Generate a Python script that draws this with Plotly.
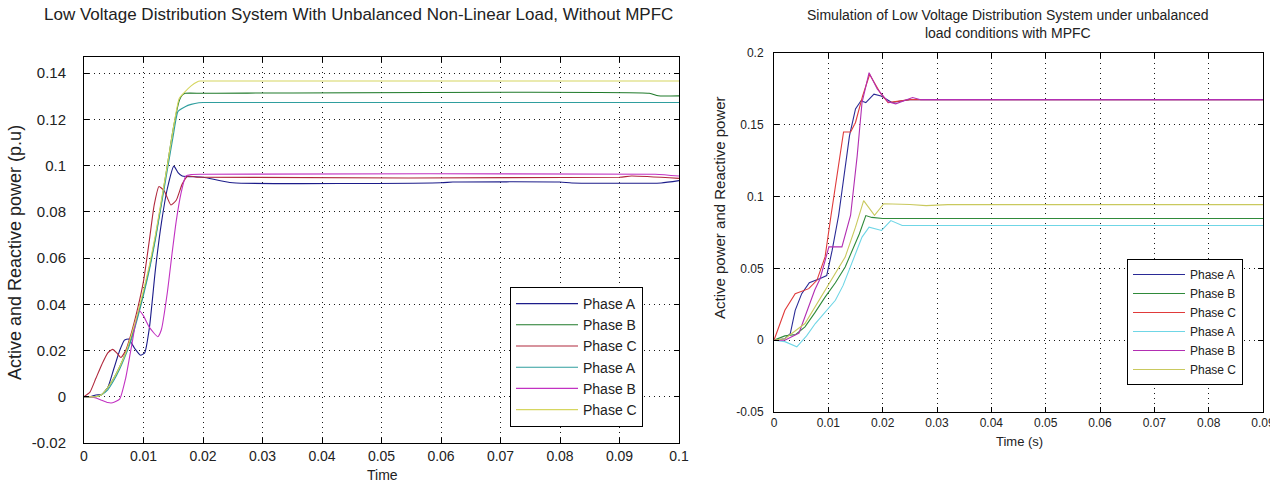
import plotly.graph_objects as go

W, H = 1270, 484
OFF = 0  # body margin removed by post_script below

# ---------------- Left chart data (without MPFC) ----------------
L_names = ["Phase A", "Phase B", "Phase C", "Phase A", "Phase B", "Phase C"]
L_colors = ["#1c1c8a", "#1f7a2a", "#b0283c", "#2f9e9e", "#c232c2", "#d6d660"]

L_A1_t = [0, 0.001, 0.002, 0.003, 0.004, 0.005, 0.006, 0.0068, 0.0075, 0.0085, 0.0095, 0.0102, 0.011, 0.012, 0.013, 0.014, 0.0151, 0.0158, 0.0165, 0.02, 0.025, 0.06, 0.062, 0.08, 0.082, 0.097, 0.1]
L_A1_v = [0, 0, 0.0008, 0.001, 0.004, 0.012, 0.02, 0.0245, 0.025, 0.021, 0.018, 0.019, 0.03, 0.055, 0.075, 0.09, 0.0998, 0.097, 0.0955, 0.0950, 0.0926, 0.0926, 0.0929, 0.0929, 0.0925, 0.0925, 0.0935]

L_B1_t = [0, 0.002, 0.003, 0.004, 0.005, 0.006, 0.007, 0.008, 0.009, 0.01, 0.011, 0.012, 0.013, 0.014, 0.015, 0.016, 0.0165, 0.017, 0.02, 0.095, 0.0965, 0.1]
L_B1_v = [0, 0, 0.001, 0.004, 0.008, 0.013, 0.019, 0.026, 0.035, 0.045, 0.056, 0.069, 0.084, 0.1, 0.116, 0.128, 0.1305, 0.1313, 0.1313, 0.1313, 0.1302, 0.1302]

L_C1_t = [0, 0.001, 0.002, 0.003, 0.004, 0.0048, 0.0055, 0.0062, 0.007, 0.008, 0.009, 0.01, 0.011, 0.0118, 0.0126, 0.0135, 0.0146, 0.0155, 0.0165, 0.0175, 0.019, 0.09, 0.092, 0.1]
L_C1_v = [0, 0.002, 0.008, 0.014, 0.019, 0.0205, 0.019, 0.017, 0.02, 0.028, 0.038, 0.05, 0.068, 0.083, 0.091, 0.089, 0.083, 0.085, 0.092, 0.0955, 0.0950, 0.0950, 0.0955, 0.0945]

L_A2_t = [0, 0.002, 0.003, 0.004, 0.005, 0.006, 0.007, 0.008, 0.009, 0.01, 0.011, 0.012, 0.013, 0.014, 0.015, 0.0158, 0.017, 0.018, 0.0193, 0.02, 0.1]
L_A2_v = [0, 0, 0.001, 0.003, 0.007, 0.012, 0.018, 0.025, 0.034, 0.044, 0.055, 0.068, 0.083, 0.098, 0.113, 0.1235, 0.1255, 0.1265, 0.1272, 0.1273, 0.1273]

L_B2_t = [0, 0.001, 0.002, 0.003, 0.004, 0.0048, 0.006, 0.007, 0.008, 0.0092, 0.01, 0.011, 0.0124, 0.013, 0.014, 0.0148, 0.0155, 0.0163, 0.0171, 0.018, 0.02, 0.096, 0.1]
L_B2_v = [0, 0, -0.0005, -0.0015, -0.0025, -0.0026, -0.001, 0.008, 0.022, 0.0374, 0.035, 0.03, 0.026, 0.029, 0.045, 0.062, 0.076, 0.088, 0.0955, 0.0962, 0.0963, 0.0963, 0.0955]

L_C2_t = [0, 0.002, 0.003, 0.004, 0.005, 0.006, 0.007, 0.008, 0.009, 0.01, 0.011, 0.012, 0.013, 0.014, 0.015, 0.016, 0.017, 0.018, 0.019, 0.0195, 0.02, 0.1]
L_C2_v = [0, 0, 0.001, 0.004, 0.008, 0.013, 0.019, 0.027, 0.036, 0.046, 0.057, 0.07, 0.085, 0.1, 0.116, 0.129, 0.132, 0.1345, 0.1362, 0.1366, 0.1366, 0.1366]

L_xticks = [0, 0.01, 0.02, 0.03, 0.04, 0.05, 0.06, 0.07, 0.08, 0.09, 0.1]
L_xtext = ["0", "0.01", "0.02", "0.03", "0.04", "0.05", "0.06", "0.07", "0.08", "0.09", "0.1"]
L_yticks = [-0.02, 0, 0.02, 0.04, 0.06, 0.08, 0.1, 0.12, 0.14]
L_ytext = ["-0.02", "0", "0.02", "0.04", "0.06", "0.08", "0.1", "0.12", "0.14"]

# ---------------- Right chart data (with MPFC) ----------------
R_names = ["Phase A", "Phase B", "Phase C", "Phase A", "Phase B", "Phase C"]
R_colors = ["#2a2a96", "#2f8a3a", "#e03a3a", "#6fd6e6", "#b22eb2", "#c9c95e"]

R_A1_t = [0, 0.002, 0.003, 0.0039, 0.0051, 0.0065, 0.0085, 0.0097, 0.0107, 0.0119, 0.0139, 0.015, 0.016, 0.0169, 0.0184, 0.0197, 0.0217, 0.025, 0.1]
R_A1_v = [0, 0.001, 0.0046, 0.0208, 0.0324, 0.04, 0.043, 0.045, 0.0625, 0.087, 0.1424, 0.161, 0.1667, 0.1655, 0.1713, 0.17, 0.1655, 0.1675, 0.1675]

R_B1_t = [0, 0.002, 0.004, 0.0057, 0.0075, 0.0094, 0.0113, 0.0131, 0.0157, 0.0169, 0.018, 0.02, 0.1]
R_B1_v = [0, 0.003, 0.004, 0.0093, 0.019, 0.030, 0.04, 0.051, 0.074, 0.0868, 0.0855, 0.0847, 0.0847]

R_C1_t = [0, 0.002, 0.0039, 0.005, 0.0064, 0.0079, 0.0094, 0.0105, 0.0118, 0.0128, 0.0141, 0.015, 0.0163, 0.0176, 0.0196, 0.021, 0.023, 0.025, 0.1]
R_C1_v = [0, 0.0208, 0.0324, 0.034, 0.0359, 0.0417, 0.058, 0.087, 0.12, 0.145, 0.145, 0.1516, 0.17, 0.185, 0.172, 0.1655, 0.1665, 0.1675, 0.1675]

R_A2_t = [0, 0.002, 0.0042, 0.006, 0.0076, 0.0095, 0.0113, 0.0127, 0.0141, 0.0162, 0.0175, 0.0198, 0.0215, 0.0236, 0.1]
R_A2_v = [0, -0.001, -0.0046, 0.003, 0.0116, 0.02, 0.0278, 0.038, 0.051, 0.0718, 0.0787, 0.0764, 0.0833, 0.0799, 0.0799]

R_B2_t = [0, 0.002, 0.0046, 0.006, 0.0075, 0.0085, 0.0101, 0.0125, 0.0141, 0.0153, 0.0162, 0.0175, 0.019, 0.021, 0.0224, 0.0255, 0.027, 0.1]
R_B2_v = [0, 0, 0.005, 0.02, 0.035, 0.043, 0.065, 0.065, 0.087, 0.128, 0.1655, 0.1863, 0.175, 0.166, 0.1646, 0.169, 0.1675, 0.1675]

R_C2_t = [0, 0.002, 0.0057, 0.0094, 0.0131, 0.015, 0.0165, 0.0185, 0.0202, 0.025, 0.028, 0.032, 0.1]
R_C2_v = [0, 0.001, 0.0116, 0.0347, 0.0579, 0.0787, 0.0972, 0.087, 0.095, 0.0945, 0.0937, 0.0944, 0.0944]

R_xticks = [0, 0.01, 0.02, 0.03, 0.04, 0.05, 0.06, 0.07, 0.08, 0.09]
R_xtext = ["0", "0.01", "0.02", "0.03", "0.04", "0.05", "0.06", "0.07", "0.08", "0.09"]
R_yticks = [-0.05, 0, 0.05, 0.1, 0.15, 0.2]
R_ytext = ["-0.05", "0", "0.05", "0.1", "0.15", "0.2"]

FONT = "Liberation Sans, Arial, sans-serif"

fig = go.Figure()

left_series = [(L_A1_t, L_A1_v), (L_B1_t, L_B1_v), (L_C1_t, L_C1_v),
               (L_A2_t, L_A2_v), (L_B2_t, L_B2_v), (L_C2_t, L_C2_v)]
for (t, v), name, col in zip(left_series, L_names, L_colors):
    fig.add_trace(go.Scatter(x=t, y=v, mode="lines", name=name,
                             line=dict(color=col, width=1.1, shape="spline", smoothing=0.5),
                             xaxis="x", yaxis="y", legend="legend"))

right_series = [(R_A1_t, R_A1_v), (R_B1_t, R_B1_v), (R_C1_t, R_C1_v),
                (R_A2_t, R_A2_v), (R_B2_t, R_B2_v), (R_C2_t, R_C2_v)]
for (t, v), name, col in zip(right_series, R_names, R_colors):
    fig.add_trace(go.Scatter(x=t, y=v, mode="lines", name=name,
                             line=dict(color=col, width=1.1),
                             xaxis="x2", yaxis="y2", legend="legend2"))

def px_x(p):
    return (p - OFF) / W

def px_y(p):
    return 1 - (p - OFF) / H

axis_common = dict(showline=True, linecolor="black", linewidth=1, mirror="ticks",
                   ticks="inside", ticklen=5, tickcolor="black", automargin=False,
                   showgrid=True, gridcolor="rgba(0,0,0,0.9)", griddash="1px,4px", gridwidth=1,
                   zeroline=False, tickmode="array", ticklabeloverflow="allow")

fig.update_layout(
    width=W, height=H, autosize=False,
    margin=dict(l=0, r=0, t=0, b=0, pad=0, autoexpand=False),
    paper_bgcolor="white", plot_bgcolor="white",
    font=dict(family=FONT, color="#222222"),
    xaxis=dict(domain=[px_x(84), px_x(679)], range=[0, 0.1], anchor="y",
               tickvals=L_xticks, ticktext=L_xtext, tickfont=dict(size=14), **axis_common),
    yaxis=dict(domain=[px_y(443), px_y(57)], range=[-0.02, 0.147], anchor="x",
               tickvals=L_yticks, ticktext=L_ytext, tickfont=dict(size=15),
               ticklabelstandoff=14, **axis_common),
    xaxis2=dict(domain=[px_x(774), px_x(1263)], range=[0, 0.09], anchor="y2",
                tickvals=R_xticks, ticktext=R_xtext, tickfont=dict(size=12), **axis_common),
    yaxis2=dict(domain=[px_y(412), px_y(53)], range=[-0.05, 0.2], anchor="x2",
                tickvals=R_yticks, ticktext=R_ytext, tickfont=dict(size=12),
                ticklabelstandoff=7, **axis_common),
    legend=dict(x=px_x(510), y=px_y(287), xanchor="left", yanchor="top",
                bgcolor="white", bordercolor="black", borderwidth=1,
                font=dict(size=14), tracegroupgap=0, itemwidth=62),
    legend2=dict(x=px_x(1127), y=px_y(259), xanchor="left", yanchor="top",
                 bgcolor="white", bordercolor="black", borderwidth=1,
                 font=dict(size=12), tracegroupgap=0, itemwidth=52),
    showlegend=True,
)

annotations = [
    dict(text="Low Voltage Distribution System With Unbalanced Non-Linear Load, Without MPFC",
         x=px_x(358), y=px_y(15), font=dict(size=17)),
    dict(text="Simulation of Low Voltage Distribution System under unbalanced<br>load conditions with MPFC",
         x=px_x(1008), y=px_y(24), font=dict(size=14)),
    dict(text="Time", x=px_x(382), y=px_y(475), font=dict(size=14)),
    dict(text="Time (s)", x=px_x(1019), y=px_y(441), font=dict(size=13)),
    dict(text="Active and Reactive power (p.u)", x=px_x(15), y=px_y(253), textangle=-90, font=dict(size=18)),
    dict(text="Active power and Reactive power", x=px_x(719), y=px_y(208), textangle=-90, font=dict(size=15)),
]
for a in annotations:
    a.update(xref="paper", yref="paper", showarrow=False, xanchor="center", yanchor="middle")
fig.update_layout(annotations=annotations)

fig.write_html("out.html", config={"displayModeBar": False},
               post_script="document.body.style.margin='0px';")
